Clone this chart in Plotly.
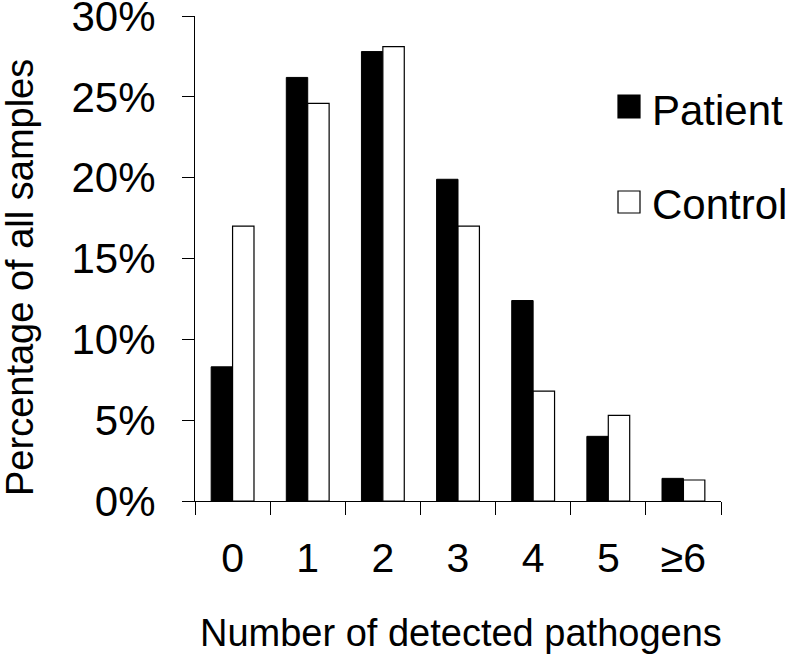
import plotly.graph_objects as go

categories = ["0", "1", "2", "3", "4", "5", "≥6"]
patient = [8.3, 26.2, 27.8, 19.9, 12.4, 4.0, 1.4]
control = [17.0, 24.6, 28.1, 17.0, 6.8, 5.3, 1.3]
y_ticks = [0, 5, 10, 15, 20, 25, 30]

FONT = "Liberation Sans, Arial, Helvetica, sans-serif"

W, H = 789, 655
L, R, T, B = 195, 68, 16, 154
PW, PH = W - L - R, H - T - B

def px(x):
    return (x - L) / PW

def py(y):
    return (H - B - y) / PH

fig = go.Figure()
fig.add_trace(go.Bar(x=categories, y=patient, name="Patient",
                     marker=dict(color="black", line=dict(color="black", width=1))))
fig.add_trace(go.Bar(x=categories, y=control, name="Control",
                     marker=dict(color="white", line=dict(color="black", width=1.2))))

fig.update_layout(
    width=W, height=H,
    margin=dict(l=L, r=R, t=T, b=B, pad=0, autoexpand=False),
    paper_bgcolor="white", plot_bgcolor="white",
    barmode="group", bargap=0.43, bargroupgap=0,
    showlegend=False,
    font=dict(family=FONT, color="black"),
)
fig.update_xaxes(
    type="category", showline=True, linecolor="black", linewidth=1.2,
    ticks="outside", tickson="boundaries", ticklen=13, tickwidth=1.2, tickcolor="black",
    tickfont=dict(size=41, family=FONT, color="black"),
    ticklabelstandoff=21, ticklabeloverflow="allow", automargin=False,
    showgrid=False, zeroline=False,
)
fig.update_yaxes(
    range=[0, 30], tickvals=y_ticks, ticktext=[f"{v}%" for v in y_ticks],
    showline=True, linecolor="black", linewidth=1.2,
    ticks="outside", ticklen=12, tickwidth=1.2, tickcolor="black",
    tickfont=dict(size=42, family=FONT, color="black"),
    ticklabelstandoff=18, ticklabeloverflow="allow", automargin=False,
    showgrid=False, zeroline=False,
)

# axis titles
fig.add_annotation(text="Number of detected pathogens", xref="paper", yref="paper",
                   x=px(461), y=py(633), xanchor="center", yanchor="middle",
                   showarrow=False, font=dict(size=38, family=FONT, color="black"))
fig.add_annotation(text="Percentage of all samples", xref="paper", yref="paper",
                   x=px(20), y=py(278), xanchor="center", yanchor="middle", textangle=-90,
                   showarrow=False, font=dict(size=38, family=FONT, color="black"))

# legend
legend_items = [("Patient", "black", 95, 118, 111), ("Control", "white", 191, 213, 205)]
for name, fill, y0, y1, yc in legend_items:
    fig.add_shape(type="rect", xref="paper", yref="paper",
                  x0=px(618), x1=px(640), y0=py(y1), y1=py(y0),
                  fillcolor=fill, line=dict(color="black", width=1.2))
    fig.add_annotation(text=name, xref="paper", yref="paper", x=px(650), y=py(yc),
                       xanchor="left", yanchor="middle", showarrow=False,
                       font=dict(size=42, family=FONT, color="black"))

fig.write_html("out.html", config={"displayModeBar": False},
               post_script="document.body.style.margin='0';document.body.style.overflow='hidden';")
